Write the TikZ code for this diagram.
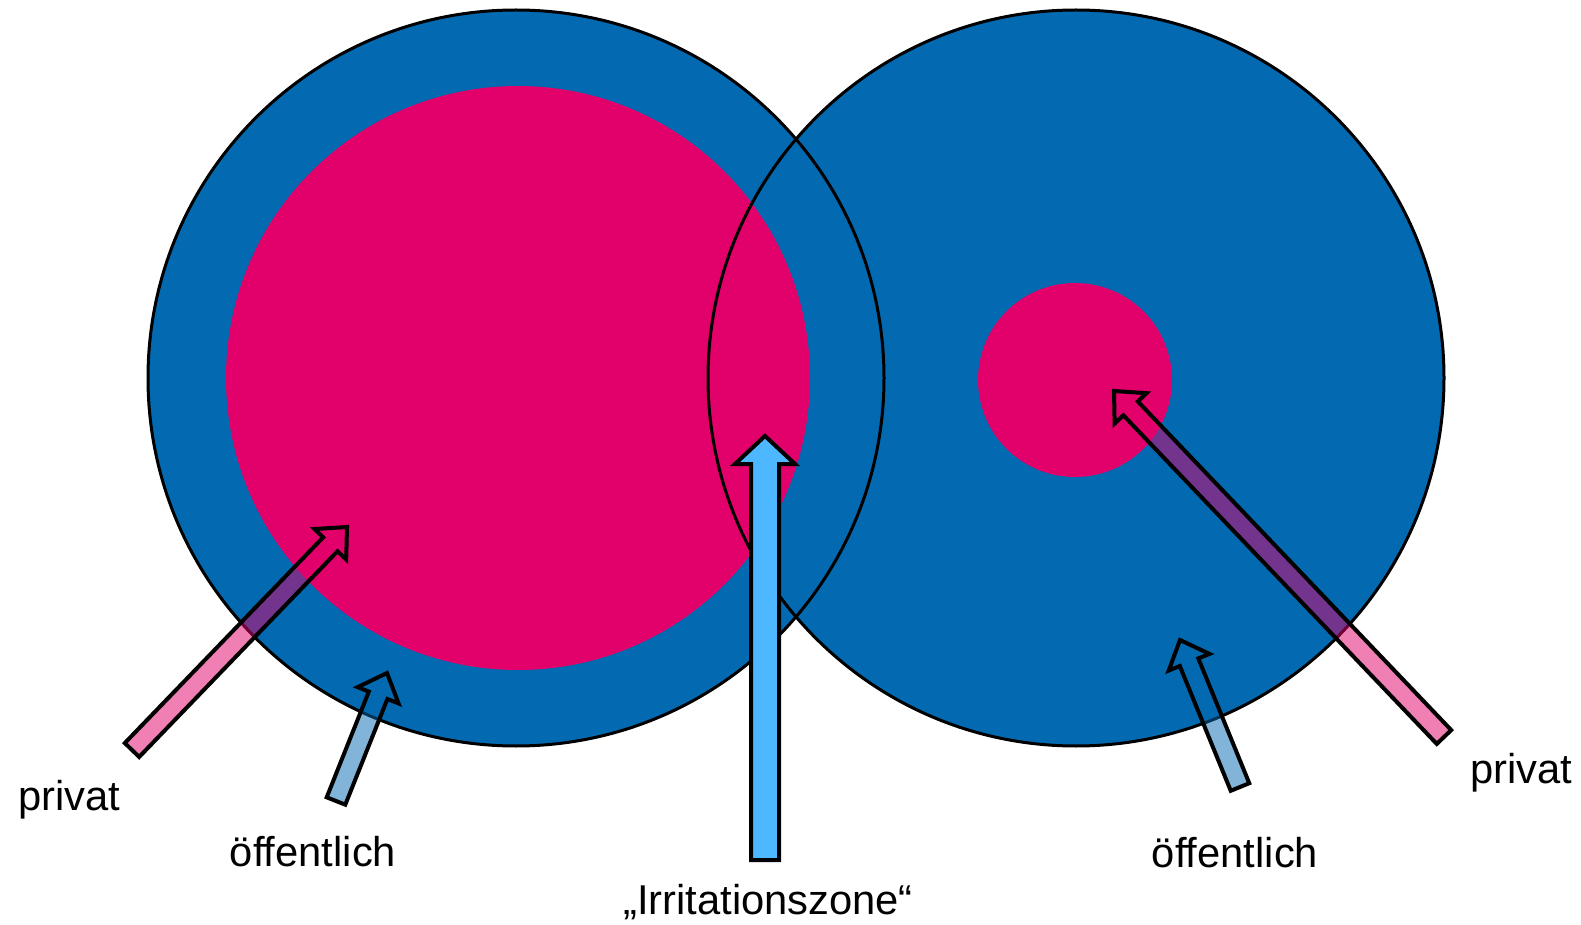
\documentclass[tikz,border=0pt]{standalone}
\usepackage{fontspec}
\setmainfont{Liberation Sans}
\usetikzlibrary{calc}
\definecolor{ringblue}{HTML}{036AB1}
\definecolor{corepink}{HTML}{E2006A}
\definecolor{zoneblue}{HTML}{4DB8FF}
% hollow block arrow: style, tail, tip, shaft half width, head half width, head length
\newcommand{\blockarrow}[6]{%
	\coordinate (#2_neck) at ($(#3)!#6!(#2)$);
	\draw[#1] ($(#2)!#4!90:(#3)$) -- ($(#2_neck)!#4!90:(#3)$) -- ($(#2_neck)!#5!90:(#3)$) -- (#3)
		-- ($(#2_neck)!#5!-90:(#3)$) -- ($(#2_neck)!#4!-90:(#3)$) -- ($(#2)!#4!-90:(#3)$) -- cycle;
}
\begin{document}
\begin{tikzpicture}[
		x=0.5pt, y=-0.5pt,
		disc/.style={circle, inner sep=0pt, outer sep=0pt},
		ring/.style={draw=black, line width=1.5pt},
		blockarr/.style={draw=black, line width=2pt, line join=miter},
		privarr/.style={blockarr, fill=corepink, fill opacity=0.5},
		oeffarr/.style={blockarr, fill=ringblue, fill opacity=0.5},
		zonearr/.style={blockarr, fill=zoneblue},
		lbl/.style={anchor=base, font=\fontsize{20.85}{25}\selectfont}
		]
		\useasboundingbox (0,0) rectangle (1581,925);
		
		% --- Spheres ---
		\node[disc, fill=ringblue, minimum size=368pt] (outerR) at (1076,378) {};
		\node[disc, fill=ringblue, minimum size=368pt] (outerL) at (516,378) {};
		\node[disc, fill=corepink, minimum size=292pt] (coreL) at (518,378) {};
		\node[disc, fill=corepink, minimum size=97pt] (coreR) at (1075,380) {};
		\draw[ring] (outerL.center) circle[radius=184pt];
		\draw[ring] (outerR.center) circle[radius=184pt];
		
		% --- Arrow end points ---
		\coordinate (privL_tail) at (132,750);
		\coordinate (privL_tip) at (347,527);
		\coordinate (oeffL_tail) at (336,801);
		\coordinate (oeffL_tip) at (387,673);
		\coordinate (zone_tail) at (765,860);
		\coordinate (zone_tip) at (765,436);
		\coordinate (oeffR_tail) at (1240,787);
		\coordinate (oeffR_tip) at (1180,640);
		\coordinate (privR_tail) at (1444,737);
		\coordinate (privR_tip) at (1114,391);
		
		% --- Arrows ---
		\blockarrow{privarr}{privL_tail}{privL_tip}{5pt}{11pt}{12pt}
		\blockarrow{oeffarr}{oeffL_tail}{oeffL_tip}{5pt}{11pt}{12pt}
		\blockarrow{zonearr}{zone_tail}{zone_tip}{7pt}{15pt}{14pt}
		\blockarrow{oeffarr}{oeffR_tail}{oeffR_tip}{5pt}{11pt}{12pt}
		\blockarrow{privarr}{privR_tail}{privR_tip}{5pt}{11pt}{12pt}
		
		% --- Labels ---
		\node[lbl] (privL) at (69,810) {privat};
		\node[lbl] (oeffL) at (313,866) {öffentlich};
		\node[lbl] (zone) at (768,914) {„Irritationszone“};
		\node[lbl] (oeffR) at (1235,867) {öffentlich};
		\node[lbl] (privR) at (1521,783) {privat};
		
	\end{tikzpicture}
\end{document}
